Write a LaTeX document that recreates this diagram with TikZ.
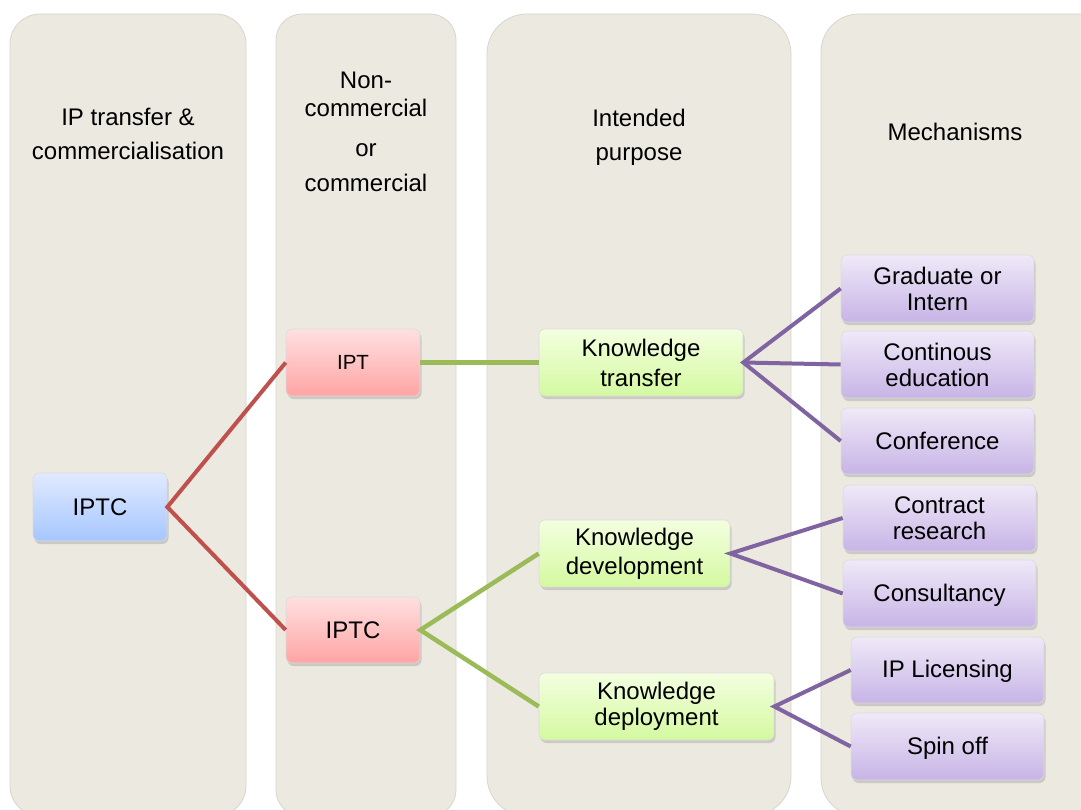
\documentclass[tikz,border=0pt]{standalone}
\usepackage{fontspec}
\setmainfont{Liberation Sans}
\usetikzlibrary{shadows}
\definecolor{colfill}{RGB}{236,234,224}
\definecolor{coledge}{RGB}{215,213,205}
\definecolor{bluetop}{RGB}{224,234,255}
\definecolor{bluebot}{RGB}{166,198,255}
\definecolor{pinktop}{RGB}{255,224,224}
\definecolor{pinkbot}{RGB}{255,164,164}
\definecolor{greentop}{RGB}{243,255,224}
\definecolor{greenbot}{RGB}{212,249,160}
\definecolor{purptop}{RGB}{239,233,248}
\definecolor{purpbot}{RGB}{199,180,230}
\definecolor{redline}{RGB}{192,80,77}
\definecolor{greenline}{RGB}{155,187,89}
\definecolor{purpline}{RGB}{128,100,162}
\begin{document}
\begin{tikzpicture}[x=1pt,y=-1pt,
  column/.style={fill=colfill,draw=coledge,line width=0.8pt},
  header/.style={anchor=base,align=center,font=\fontsize{24}{34}\selectfont},
  box/.style={rounded corners=6pt,draw=black!14,line width=0.6pt,inner sep=0pt,
    align=center,font=\fontsize{24}{26}\selectfont,
    drop shadow={shadow xshift=1.5pt,shadow yshift=-3pt,opacity=0.3}},
  bluebox/.style={box,top color=bluetop,bottom color=bluebot},
  pinkbox/.style={box,top color=pinktop,bottom color=pinkbot},
  greenbox/.style={box,top color=greentop,bottom color=greenbot},
  purpbox/.style={box,top color=purptop,bottom color=purpbot},
  redlink/.style={draw=redline,line width=4pt},
  greenlink/.style={draw=greenline,line width=4.5pt},
  purplink/.style={draw=purpline,line width=4pt},
]
\useasboundingbox (0,0) rectangle (1081,810);
\clip (0,0) rectangle (1081,810);
\fill[white] (0,0) rectangle (1081,810);

% background columns
\draw[column,rounded corners=30pt] (10,14) rectangle (246,816);
\draw[column,rounded corners=26pt] (276,14) rectangle (456,816);
\draw[column,rounded corners=40pt] (487,14) rectangle (791,816);
\draw[column,rounded corners=38pt] (821,14) rectangle (1130,816);

% column headings (anchored on the baseline of the last line)
\node[header] (h1) at (128,160) {IP transfer \&\\commercialisation};
\node[header,font=\fontsize{24}{28}\selectfont] (h2) at (366,192)
  {Non-\\commercial\\[12pt]or\\[7pt]commercial};
\node[header] (h3) at (639,161) {Intended\\purpose};
\node[header] (h4) at (955,141) {Mechanisms};

% boxes
\node[bluebox,minimum width=134pt,minimum height=68pt] (iptcL) at (100,507) {IPTC};
\node[pinkbox,minimum width=134pt,minimum height=67pt,font=\fontsize{20.5}{24}\selectfont] (ipt) at (353,362.5) {IPT};
\node[pinkbox,minimum width=134pt,minimum height=66pt] (iptcM) at (353,630) {IPTC};

\node[greenbox,minimum width=204pt,minimum height=67pt,font=\fontsize{24}{30}\selectfont] (kt) at (641,362.5) {Knowledge\\transfer};
\node[greenbox,minimum width=191pt,minimum height=67pt,font=\fontsize{24}{29}\selectfont] (kdev) at (634.5,553.5) {Knowledge\\development};
\node[greenbox,minimum width=235pt,minimum height=67pt] (kdep) at (656.5,706.5) {Knowledge\\deployment};

\node[purpbox,minimum width=193pt,minimum height=67pt] (grad) at (937.5,288.5) {Graduate or\\Intern};
\node[purpbox,minimum width=193pt,minimum height=67pt] (cont) at (937.5,364.5) {Continous\\education};
\node[purpbox,minimum width=193pt,minimum height=66pt] (conf) at (937.5,441) {Conference};
\node[purpbox,minimum width=193pt,minimum height=66pt] (contr) at (939.5,518) {Contract\\research};
\node[purpbox,minimum width=193pt,minimum height=67pt,text depth=2pt] (cons) at (939.5,593.5) {Consultancy};
\node[purpbox,minimum width=193pt,minimum height=66pt,text depth=2pt] (lic) at (947.5,670) {IP Licensing};
\node[purpbox,minimum width=193pt,minimum height=67pt,text depth=2pt] (spin) at (947.5,746.5) {Spin off};

% connectors
\draw[redlink] (ipt.west) -- (iptcL.east) -- (iptcM.west);
\draw[greenlink] (ipt.east) -- (kt.west);
\draw[greenlink] (kdev.west) -- (iptcM.east) -- (kdep.west);
\draw[purplink] (grad.west) -- (kt.east) -- (conf.west);
\draw[purplink] (kt.east) -- (cont.west);
\draw[purplink] (contr.west) -- (kdev.east) -- (cons.west);
\draw[purplink] (lic.west) -- (kdep.east) -- (spin.west);
\end{tikzpicture}
\end{document}
